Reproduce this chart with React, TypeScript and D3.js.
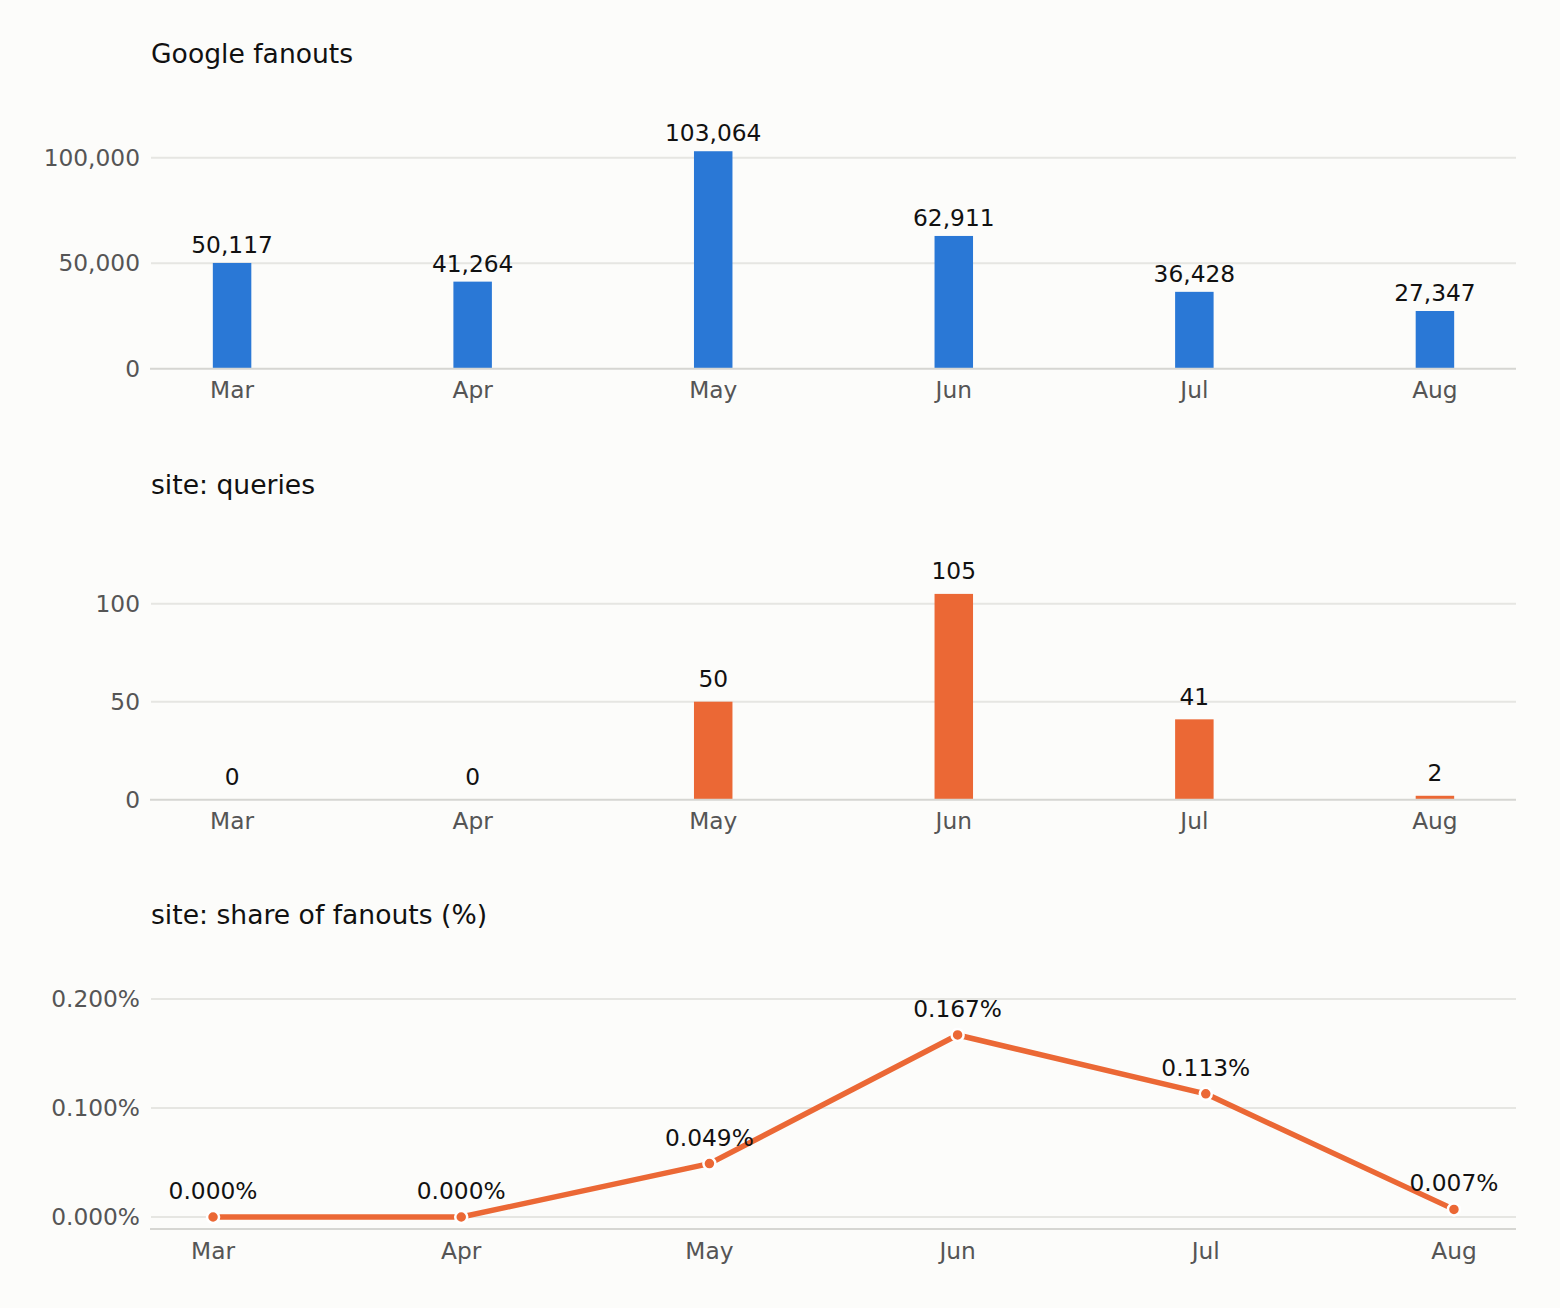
import React from 'react';
import * as d3 from 'd3';

const months = ['Mar', 'Apr', 'May', 'Jun', 'Jul', 'Aug'];
const fanouts = [50117, 41264, 103064, 62911, 36428, 27347];
const siteQueries = [0, 0, 50, 105, 41, 2];
const sharePct = [0.0, 0.0, 0.049, 0.167, 0.113, 0.007];

const fanoutTicks = [0, 50000, 100000];
const queryTicks = [0, 50, 100];
const shareTicks = [0, 0.1, 0.2];

const W = 1560;
const H = 1308;
const left = 151;
const right = 1516;
const font = '"DejaVu Sans", sans-serif';
const BG = '#fcfcfa';
const BLUE = '#2a78d6';
const ORANGE = '#eb6835';
const GRID = '#e6e6e2';
const AXIS = '#d6d6d2';
const TICK = '#555555';
const FS = 23.3;
const TITLE_FS = 26.6;

const barX = d3.scaleLinear().domain([-0.337, 5.337]).range([left, right]);
const lineX = d3.scaleLinear().domain([-0.25, 5.25]).range([left, right]);
const barW = barX(0.16) - barX(0);

type BarPanelProps = {
  title: string;
  values: number[];
  ticks: number[];
  y: d3.ScaleLinear<number, number>;
  color: string;
  fmt: (n: number) => string;
  labelGap: number;
};

function BarPanel({ title, values, ticks, y, color, fmt, labelGap }: BarPanelProps) {
  const base = y(0);
  return (
    <g>
      <text x={left} y={base - 306} fontSize={TITLE_FS} fill="#111">{title}</text>
      {ticks.filter(t => t !== 0).map(t => (
        <line key={t} x1={left} x2={right} y1={y(t)} y2={y(t)} stroke={GRID} strokeWidth={2} />
      ))}
      {ticks.map(t => (
        <text key={'l' + t} x={140} y={y(t)} dy="0.35em" textAnchor="end" fontSize={FS} fill={TICK}>
          {fmt(t)}
        </text>
      ))}
      {values.map((v, i) => (
        <rect key={i} x={barX(i) - barW / 2} y={y(v)} width={barW} height={base - y(v)} fill={color} />
      ))}
      <line x1={left - 1} x2={right} y1={base} y2={base} stroke={AXIS} strokeWidth={2} />
      {values.map((v, i) => (
        <text key={'v' + i} x={barX(i)} y={y(v) - labelGap} textAnchor="middle" fontSize={FS} fill="#111">
          {fmt(v)}
        </text>
      ))}
      {months.map((m, i) => (
        <text key={m} x={barX(i)} y={base + 29.5} textAnchor="middle" fontSize={FS} fill={TICK}>{m}</text>
      ))}
    </g>
  );
}

export default function App() {
  const fanY = d3.scaleLinear().domain([0, 120000]).range([368.7, 368.7 - 120000 * 105.5 / 50000]);
  const qY = d3.scaleLinear().domain([0, 120]).range([799.7, 799.7 - 120 * 1.96]);
  const sY = d3.scaleLinear().domain([-0.011, 0.2]).range([1229, 999]);
  const comma = d3.format(',');
  const pct = (v: number) => d3.format('.3f')(v) + '%';

  const line = d3.line<number>().x((_, i) => lineX(i)).y(d => sY(d));
  const sBase = sY(-0.011);

  return (
    <svg width={W} height={H} style={{ position: 'absolute', left: 0, top: 0, fontFamily: font }}>
      <rect width={W} height={H} fill={BG} />
      <BarPanel title="Google fanouts" values={fanouts} ticks={fanoutTicks} y={fanY} color={BLUE} fmt={comma} labelGap={10} />
      <BarPanel title="site: queries" values={siteQueries} ticks={queryTicks} y={qY} color={ORANGE} fmt={comma} labelGap={14.5} />

      <g>
        <text x={left} y={sBase - 305} fontSize={TITLE_FS} fill="#111">site: share of fanouts (%)</text>
        {shareTicks.map(t => (
          <line key={t} x1={left} x2={right} y1={sY(t)} y2={sY(t)} stroke={GRID} strokeWidth={2} />
        ))}
        {shareTicks.map(t => (
          <text key={'l' + t} x={140} y={sY(t)} dy="0.35em" textAnchor="end" fontSize={FS} fill={TICK}>
            {pct(t)}
          </text>
        ))}
        <line x1={left - 1} x2={right} y1={sBase} y2={sBase} stroke={AXIS} strokeWidth={2} />
        <path d={line(sharePct) ?? ''} fill="none" stroke={ORANGE} strokeWidth={5.5} strokeLinejoin="round" />
        {sharePct.map((v, i) => (
          <circle key={i} cx={lineX(i)} cy={sY(v)} r={6} fill={ORANGE} stroke="#ffffff" strokeWidth={2.5} />
        ))}
        {sharePct.map((v, i) => (
          <text key={'v' + i} x={lineX(i)} y={sY(v) - 18} textAnchor="middle" fontSize={FS} fill="#111">
            {pct(v)}
          </text>
        ))}
        {months.map((m, i) => (
          <text key={m} x={lineX(i)} y={sBase + 30} textAnchor="middle" fontSize={FS} fill={TICK}>{m}</text>
        ))}
      </g>
    </svg>
  );
}
